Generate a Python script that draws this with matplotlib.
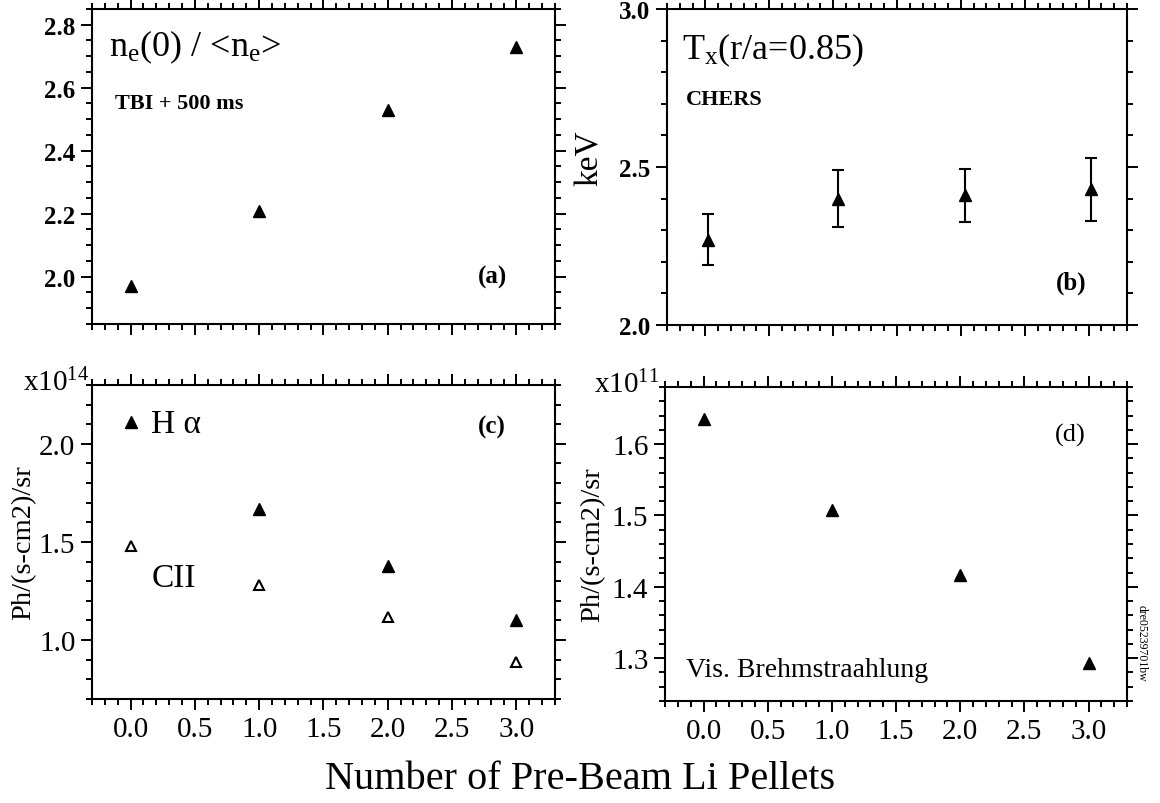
import matplotlib
matplotlib.use('Agg')
import matplotlib.pyplot as plt
from matplotlib.ticker import MultipleLocator, FormatStrFormatter

plt.rcParams['font.family'] = ['Liberation Serif', 'DejaVu Serif']
plt.rcParams['mathtext.fontset'] = 'custom'
plt.rcParams['mathtext.rm'] = 'Liberation Serif'
plt.rcParams['mathtext.it'] = 'Liberation Serif:italic'

# values
pellets = [0, 1, 2, 3]
ne_peaking = [1.97, 2.21, 2.53, 2.73]
tx_pellets = [0.02, 1.04, 2.03, 3.02]
tx_kev = [2.27, 2.40, 2.41, 2.43]
tx_err = [0.08, 0.09, 0.085, 0.10]
h_alpha = [2.11, 1.67, 1.38, 1.10]
c_ii = [1.48, 1.28, 1.12, 0.89]
vis_brems = [1.635, 1.507, 1.416, 1.293]


def style_axes(ax, ylim, ymajor, yminor, ticksize, xlabels, bold=False):
  ax.set_xlim(-0.3, 3.3)
  ax.set_ylim(*ylim)
  ax.xaxis.set_major_locator(MultipleLocator(0.5))
  ax.xaxis.set_minor_locator(MultipleLocator(0.1))
  ax.yaxis.set_major_locator(MultipleLocator(ymajor))
  ax.yaxis.set_minor_locator(MultipleLocator(yminor))
  ax.xaxis.set_major_formatter(FormatStrFormatter('%.1f'))
  ax.yaxis.set_major_formatter(FormatStrFormatter('%.1f'))
  ax.tick_params(which='both', direction='out', top=True, right=True,
                 width=1.4, labelsize=ticksize, labelbottom=xlabels)
  ax.tick_params(which='major', length=8, pad=4)
  ax.tick_params(which='minor', length=4.5)
  ax.tick_params(axis='x', labelsize=21, pad=4)
  if bold:
    for lbl in ax.get_yticklabels():
      lbl.set_fontweight('bold')
  for s in ax.spines.values():
    s.set_linewidth(1.5)


fig = plt.figure(figsize=(11.6, 8.04), dpi=100)
ax_a = fig.add_axes([0.0793, 0.5958, 0.3991, 0.3918])
ax_b = fig.add_axes([0.5750, 0.5945, 0.3966, 0.3931])
ax_c = fig.add_axes([0.0793, 0.1294, 0.3991, 0.3905])
ax_d = fig.add_axes([0.5733, 0.1269, 0.3983, 0.3905])

# (a) density peaking
style_axes(ax_a, (1.85, 2.85), 0.2, 0.05, 18, False, bold=True)
ax_a.plot(pellets, ne_peaking, '^', color='black', ms=9)
ax_a.text(-0.17, 2.73, r'n$_\mathregular{e}$(0) / <n$_\mathregular{e}$>',
          fontsize=26, va='center')
ax_a.text(-0.12, 2.55, 'TBI + 500 ms', fontsize=16, fontweight='bold',
          va='center')
ax_a.text(2.70, 2.0, '(a)', fontsize=18, fontweight='bold', va='center')

# (b) edge temperature
style_axes(ax_b, (2.0, 3.0), 0.5, 0.1, 18, False, bold=True)
ax_b.errorbar(tx_pellets, tx_kev, yerr=tx_err, fmt='^', color='black', ms=9,
              capsize=4, elinewidth=1.5, capthick=1.5)
ax_b.text(-0.18, 2.873, r'T$_\mathregular{x}$(r/a=0.85)', fontsize=26,
          va='center')
ax_b.text(-0.15, 2.715, 'CHERS', fontsize=16, fontweight='bold', va='center')
ax_b.text(2.74, 2.136, '(b)', fontsize=18, fontweight='bold', va='center')
ax_b.set_ylabel('keV', fontsize=24)
ax_b.yaxis.set_label_coords(-0.135, 0.53)

# (c) H-alpha and CII
style_axes(ax_c, (0.7, 2.3), 0.5, 0.1, 21, True)
ax_c.plot(pellets, h_alpha, '^', color='black', ms=9)
ax_c.plot(pellets, c_ii, '^', color='black', mfc='white', ms=7, mew=1.5)
ax_c.text(0.16, 2.10, 'H α', fontsize=24, va='center')
ax_c.text(0.16, 1.32, 'CII', fontsize=24, va='center')
ax_c.text(2.70, 2.09, '(c)', fontsize=18, fontweight='bold', va='center')
ax_c.set_ylabel('Ph/(s-cm2)/sr', fontsize=20.5)
ax_c.yaxis.set_label_coords(-0.121, 0.5)
ax_c.text(-0.006, 1.01, r'x10$^{\mathregular{14}}$', fontsize=21,
          ha='right', va='center', transform=ax_c.transAxes)

# (d) visible bremsstrahlung
style_axes(ax_d, (1.24, 1.68), 0.1, 0.02, 21, True)
ax_d.plot(pellets, vis_brems, '^', color='black', ms=9)
ax_d.text(2.74, 1.614, '(d)', fontsize=19, va='center')
ax_d.text(-0.14, 1.284, 'Vis. Brehmstraahlung', fontsize=20, va='center')
ax_d.set_ylabel('Ph/(s-cm2)/sr', fontsize=20.5)
ax_d.yaxis.set_label_coords(-0.13, 0.5)
ax_d.text(-0.012, 1.01, r'x10$^{\mathregular{11}}$', fontsize=21,
          ha='right', va='center', transform=ax_d.transAxes)

fig.text(0.5, 0.03, 'Number of Pre-Beam Li Pellets', fontsize=29,
         ha='center', va='center')
fig.text(0.9845, 0.2, 'dre05239701bw', fontsize=8.5, rotation=270,
         ha='center', va='center')

fig.savefig('out.png', dpi=100)
